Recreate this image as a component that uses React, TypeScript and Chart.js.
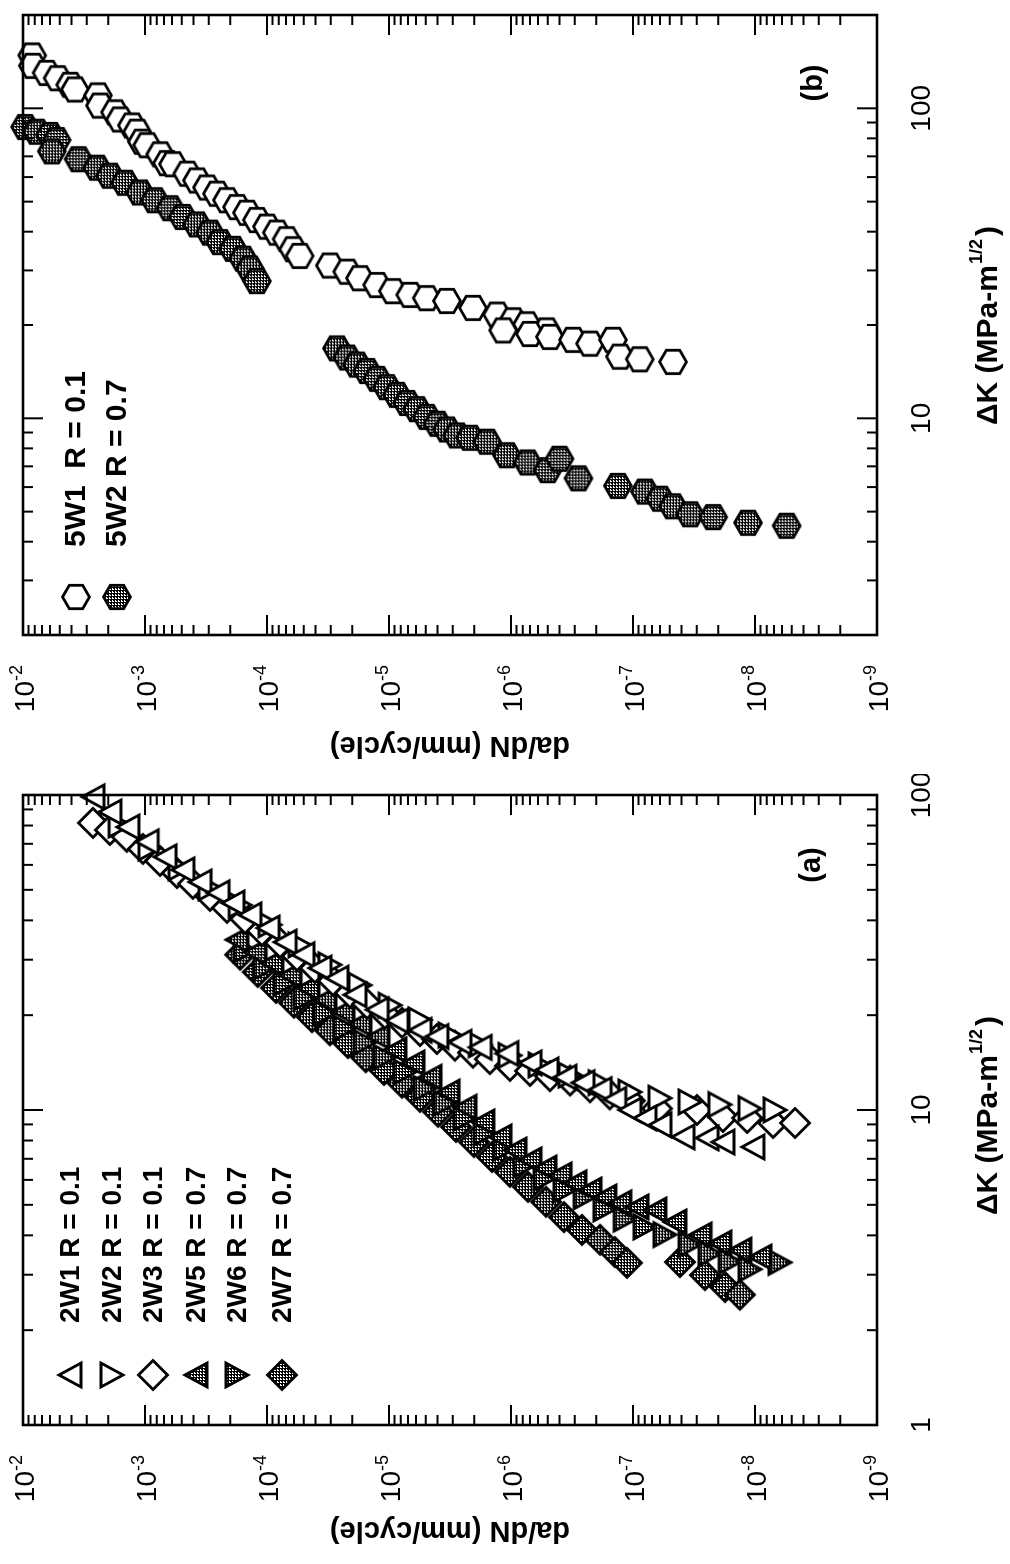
import React, { useEffect, useRef } from 'react';
import { Chart, registerables } from 'chart.js';

Chart.register(...registerables);

// ---------------- Panel (a) data: ΔK (MPa·m^1/2) and da/dN (mm/cycle) ----------------
const a_dK_2W1 = [98.6, 88.3, 79.1, 71.0, 63.6, 57.8, 52.9, 48.9, 45.4, 41.6, 37.8, 34.1, 31.1, 28.2, 26.2, 23.2, 20.8, 19.2, 17.9, 17.1, 16.4, 15.8, 15.1, 14.1, 13.4, 12.7, 12.2, 11.6, 10.8, 10.0, 9.43, 8.96, 8.21, 8.15, 7.91, 7.63];
const a_da_2W1 = [2.67e-3, 1.94e-3, 1.38e-3, 9.6e-4, 6.85e-4, 4.89e-4, 3.54e-4, 2.52e-4, 1.9e-4, 1.38e-4, 9.8e-5, 7.11e-5, 5.07e-5, 3.68e-5, 2.67e-5, 1.9e-5, 1.25e-5, 8.59e-6, 5.57e-6, 4.05e-6, 2.62e-6, 1.79e-6, 1.08e-6, 6.98e-7, 5.07e-7, 3.61e-7, 2.57e-7, 1.86e-7, 1.41e-7, 1.06e-7, 7.98e-8, 6.01e-8, 3.89e-8, 2.47e-8, 1.83e-8, 1.04e-8];

const a_dK_2W2 = [80.3, 67.9, 58.7, 50.7, 44.7, 38.7, 33.4, 28.9, 24.9, 21.5, 19.3, 17.3, 16.1, 14.9, 13.9, 12.9, 12.2, 11.4, 10.9, 10.6, 10.4, 10.1, 10.0];
const a_da_2W2 = [1.6e-3, 9.1e-4, 5.16e-4, 2.93e-4, 1.66e-4, 9.44e-5, 5.37e-5, 3.05e-5, 1.73e-5, 9.8e-6, 5.57e-6, 3.16e-6, 1.79e-6, 1.02e-6, 5.78e-7, 3.28e-7, 1.86e-7, 1.06e-7, 6.01e-8, 3.41e-8, 1.94e-8, 1.1e-8, 6.85e-9];

const a_dK_2W3 = [81.5, 77.4, 73.6, 67.4, 61.7, 56.5, 52.2, 47.8, 43.8, 40.4, 37.0, 33.9, 30.8, 28.2, 25.7, 23.5, 21.7, 20.2, 18.9, 17.8, 16.8, 16.0, 15.2, 14.5, 13.8, 13.3, 12.8, 12.4, 11.8, 11.2, 10.7, 10.1, 10.0, 9.5, 9.43, 9.09, 9.09];
const a_da_2W3 = [2.67e-3, 1.94e-3, 1.41e-3, 1.04e-3, 7.53e-4, 5.47e-4, 4.05e-4, 2.93e-4, 2.13e-4, 1.51e-4, 1.1e-4, 7.82e-5, 5.68e-5, 4.05e-5, 2.88e-5, 2.09e-5, 1.51e-5, 1.08e-5, 7.82e-6, 5.57e-6, 4.05e-6, 2.88e-6, 2.05e-6, 1.49e-6, 1.02e-6, 6.98e-7, 4.79e-7, 3.28e-7, 2.25e-7, 1.55e-7, 1.06e-7, 6.35e-8, 2.99e-8, 1.83e-8, 1.16e-8, 7.11e-9, 4.7e-9];

const a_dK_2W5 = [34.7, 31.7, 29.3, 26.8, 24.4, 22.4, 20.5, 18.8, 17.1, 15.5, 14.1, 12.7, 11.4, 10.2, 9.16, 8.21, 7.46, 6.94, 6.54, 6.22, 5.87, 5.57, 5.29, 5.07, 4.92, 4.81, 4.41, 4.01, 3.78, 3.59, 3.41];
const a_da_2W5 = [1.76e-4, 1.25e-4, 9.1e-5, 6.47e-5, 4.61e-5, 3.35e-5, 2.38e-5, 1.73e-5, 1.23e-5, 8.93e-6, 6.35e-6, 4.61e-6, 3.28e-6, 2.38e-6, 1.7e-6, 1.23e-6, 9.27e-7, 6.98e-7, 5.26e-7, 3.96e-7, 2.99e-7, 2.25e-7, 1.7e-7, 1.28e-7, 9.27e-8, 6.61e-8, 4.53e-8, 2.82e-8, 1.94e-8, 1.33e-8, 9.1e-9];

const a_dK_2W6 = [32.2, 28.4, 25.3, 22.7, 20.3, 18.2, 16.4, 14.7, 13.2, 11.7, 10.5, 9.43, 8.45, 7.57, 6.69, 6.08, 5.57, 5.3, 4.85, 4.5, 4.25, 4.02, 3.74, 3.5, 3.3, 3.12, 3.28];
const a_da_2W6 = [1.51e-4, 1.04e-4, 7.11e-5, 4.89e-5, 3.35e-5, 2.3e-5, 1.57e-5, 1.08e-5, 7.4e-6, 5.07e-6, 3.48e-6, 2.38e-6, 1.63e-6, 1.12e-6, 7.67e-7, 5.26e-7, 3.61e-7, 2.47e-7, 1.7e-7, 1.16e-7, 7.98e-8, 5.47e-8, 3.41e-8, 2.34e-8, 1.6e-8, 1.1e-8, 6.24e-9];

const a_dK_2W7 = [31.1, 27.4, 24.4, 21.9, 19.7, 17.9, 16.3, 14.7, 13.4, 12.2, 11.0, 9.86, 8.83, 7.91, 7.09, 6.36, 5.7, 5.11, 4.57, 4.16, 3.87, 3.54, 3.27, 3.29, 2.99, 2.74, 2.59];
const a_da_2W7 = [1.66e-4, 1.19e-4, 8.43e-5, 6.01e-5, 4.28e-5, 3.05e-5, 2.17e-5, 1.55e-5, 1.1e-5, 7.82e-6, 5.57e-6, 3.96e-6, 2.82e-6, 2.01e-6, 1.43e-6, 1.02e-6, 7.26e-7, 5.16e-7, 3.68e-7, 2.62e-7, 1.86e-7, 1.41e-7, 1.12e-7, 4.12e-8, 2.57e-8, 1.76e-8, 1.33e-8];

// ---------------- Panel (b) data ----------------
const b_dK_5W1 = [148, 137, 130, 125, 119, 115, 110, 102, 97, 92, 88, 84, 78, 76, 71, 66.5, 66, 61.5, 58.5, 55.5, 53, 50.5, 48, 46, 43.6, 41.5, 39.7, 37.8, 35.1, 33.4, 31.1, 29.7, 28.3, 26.9, 25.7, 25.0, 24.4, 23.9, 22.7, 21.6, 20.7, 20.1, 19.2, 19.2, 18.7, 18.3, 17.9, 17.4, 17.9, 15.8, 15.5, 15.2];
const b_da_5W1 = [8.4e-3, 8.3e-3, 6.4e-3, 5.2e-3, 4.1e-3, 3.75e-3, 2.43e-3, 2.34e-3, 1.76e-3, 1.6e-3, 1.28e-3, 1.16e-3, 1.06e-3, 9.6e-4, 7.5e-4, 6.6e-4, 5.9e-4, 4.5e-4, 3.75e-4, 3.1e-4, 2.57e-4, 2.13e-4, 1.76e-4, 1.46e-4, 1.21e-4, 1.0e-4, 8.3e-5, 6.9e-5, 6.1e-5, 5.4e-5, 3.05e-5, 2.2e-5, 1.73e-5, 1.25e-5, 9.3e-6, 6.7e-6, 4.9e-6, 3.35e-6, 2.05e-6, 1.3e-6, 9.6e-7, 7.4e-7, 5.1e-7, 1.16e-6, 7.0e-7, 4.8e-7, 3.1e-7, 2.25e-7, 1.46e-7, 1.28e-7, 8.8e-8, 4.7e-8];

const b_dK_5W2 = [87, 84, 82, 79, 72.6, 68.5, 64.3, 60.6, 57.5, 53.5, 50.5, 47.6, 44.6, 42.2, 39.7, 37, 35.2, 32.7, 30.4, 27.7, 16.8, 15.7, 14.9, 14.2, 13.4, 12.6, 11.9, 11.2, 10.7, 10.1, 9.6, 9.2, 8.8, 8.65, 8.4, 7.6, 7.2, 6.8, 7.4, 6.4, 6.05, 5.8, 5.5, 5.2, 4.9, 4.8, 4.6, 4.5];
const b_da_5W2 = [9.6e-3, 7.7e-3, 6.0e-3, 5.3e-3, 5.8e-3, 3.5e-3, 2.47e-3, 1.94e-3, 1.46e-3, 1.1e-3, 8.3e-4, 6.2e-4, 4.9e-4, 3.75e-4, 2.93e-4, 2.43e-4, 1.9e-4, 1.57e-4, 1.38e-4, 1.21e-4, 2.67e-5, 2.2e-5, 1.83e-5, 1.51e-5, 1.25e-5, 1.04e-5, 8.6e-6, 7.1e-6, 5.9e-6, 4.9e-6, 4.0e-6, 3.35e-6, 2.77e-6, 2.17e-6, 1.57e-6, 1.08e-6, 7.3e-7, 5.0e-7, 4.0e-7, 2.8e-7, 1.33e-7, 8.0e-8, 6.0e-8, 4.7e-8, 3.4e-8, 2.2e-8, 1.14e-8, 5.5e-9];

// ---------------- labels / ticks ----------------
const a_legendLabels = ['2W1 R = 0.1', '2W2 R = 0.1', '2W3 R = 0.1', '2W5 R = 0.7', '2W6 R = 0.7', '2W7 R = 0.7'];
const b_legendLabels = ['5W1  R = 0.1', '5W2 R = 0.7'];
const a_dKTickLabels = [1, 10, 100];
const b_dKTickLabels = [10, 100];
const daTickExponents = [-2, -3, -4, -5, -6, -7, -8, -9];
const a_range = [1, 100];
const b_range = [2, 200];
const daRange = [1e-9, 1e-2];

const FF = '"Liberation Sans", Arial, Helvetica, sans-serif';

type Shape = 'triUp' | 'triDown' | 'diamond' | 'hex';

function makeMarker(shape: Shape, filled: boolean): HTMLCanvasElement {
  const S = 36;
  const c = document.createElement('canvas');
  c.width = S;
  c.height = S;
  const g = c.getContext('2d')!;
  const cx = S / 2, cy = S / 2;
  g.beginPath();
  if (shape === 'triUp') {
    g.moveTo(cx, cy - 11); g.lineTo(cx + 12, cy + 11); g.lineTo(cx - 12, cy + 11);
  } else if (shape === 'triDown') {
    g.moveTo(cx, cy + 11); g.lineTo(cx + 12, cy - 11); g.lineTo(cx - 12, cy - 11);
  } else if (shape === 'diamond') {
    const r = 14.5;
    g.moveTo(cx, cy - r); g.lineTo(cx + r, cy); g.lineTo(cx, cy + r); g.lineTo(cx - r, cy);
  } else {
    const r = 13.5;
    for (let i = 0; i < 6; i++) {
      const a = -Math.PI / 2 + (i * Math.PI) / 3;
      const px = cx + r * Math.cos(a), py = cy + r * Math.sin(a);
      if (i === 0) g.moveTo(px, py); else g.lineTo(px, py);
    }
  }
  g.closePath();
  if (filled) {
    const tile = document.createElement('canvas');
    tile.width = 3; tile.height = 3;
    const t = tile.getContext('2d')!;
    t.fillStyle = '#fff'; t.fillRect(0, 0, 3, 3);
    t.fillStyle = '#000'; t.fillRect(0, 0, 3, 1); t.fillRect(0, 0, 1, 3); t.fillRect(2, 2, 1, 1);
    g.fillStyle = g.createPattern(tile, 'repeat')!;
  } else {
    g.fillStyle = '#fff';
  }
  g.fill();
  g.lineWidth = 2.8;
  g.lineJoin = 'miter';
  g.strokeStyle = '#000';
  g.stroke();
  return c;
}

function zip(xs: number[], ys: number[]) {
  const n = Math.min(xs.length, ys.length);
  const out: { x: number; y: number }[] = [];
  for (let i = 0; i < n; i++) out.push({ x: xs[i], y: ys[i] });
  return out;
}

interface PanelCfg {
  xRange: number[];
  xTickLabels: number[];
  series: { label: string; dK: number[]; da: number[]; marker: HTMLCanvasElement }[];
  legendLabels: string[];
  legendRows: number[];
  legendMarkerX: number;
  legendTextX: number;
  legendFont: number;
  panelLabel: string;
  panelLabelPos: number[];
  yTitleX: number;
  xTitleStart: number;
  padRight: number;
}

function makePanel(canvas: HTMLCanvasElement, p: PanelCfg) {
  const framePlugin = {
    id: 'frame',
    afterDraw(chart: any) {
      const ctx: CanvasRenderingContext2D = chart.ctx;
      const { left, right, top, bottom } = chart.chartArea;
      const xs = chart.scales.x;
      const ys = chart.scales.y;
      ctx.save();
      ctx.strokeStyle = '#000';
      ctx.fillStyle = '#000';
      // inward ticks, ΔK axis (top & bottom)
      ctx.lineWidth = 2;
      const x0 = Math.floor(Math.log10(p.xRange[0]));
      const x1 = Math.ceil(Math.log10(p.xRange[1]));
      for (let d = x0; d <= x1; d++) {
        for (let m = 1; m <= 9; m++) {
          const v = m * Math.pow(10, d);
          if (v < p.xRange[0] * 0.999 || v > p.xRange[1] * 1.001) continue;
          const px = xs.getPixelForValue(v);
          const len = m === 1 ? 20 : 10;
          ctx.beginPath();
          ctx.moveTo(px, bottom); ctx.lineTo(px, bottom - len);
          ctx.moveTo(px, top); ctx.lineTo(px, top + len);
          ctx.stroke();
        }
      }
      // inward ticks, da/dN axis (left & right)
      for (let d = -9; d <= -2; d++) {
        for (let m = 1; m <= 9; m++) {
          const v = m * Math.pow(10, d);
          if (v < daRange[0] * 0.999 || v > daRange[1] * 1.001) continue;
          const py = ys.getPixelForValue(v);
          const len = m === 1 ? 20 : 10;
          ctx.beginPath();
          ctx.moveTo(left, py); ctx.lineTo(left + len, py);
          ctx.moveTo(right, py); ctx.lineTo(right - len, py);
          ctx.stroke();
        }
      }
      // frame
      ctx.lineWidth = 2.6;
      ctx.strokeRect(left, top, right - left, bottom - top);

      // da/dN tick labels 10^n
      ctx.textAlign = 'left';
      ctx.textBaseline = 'alphabetic';
      for (const e of daTickExponents) {
        const py = ys.getPixelForValue(Math.pow(10, e));
        const sup = String(e);
        ctx.font = `28px ${FF}`;
        const w10 = ctx.measureText('10').width;
        ctx.font = `18px ${FF}`;
        const ws = ctx.measureText(sup).width;
        const xEnd = left - 30;
        ctx.font = `28px ${FF}`;
        ctx.fillText('10', xEnd - ws - w10, py + 11);
        ctx.font = `18px ${FF}`;
        ctx.fillText(sup, xEnd - ws, py - 1);
      }
      // ΔK tick labels
      ctx.font = `28px ${FF}`;
      ctx.textAlign = 'center';
      ctx.textBaseline = 'middle';
      for (const v of p.xTickLabels) {
        ctx.fillText(String(v), xs.getPixelForValue(v), bottom + 45);
      }
      // ΔK title
      ctx.textAlign = 'left';
      ctx.textBaseline = 'alphabetic';
      ctx.font = `bold 30px ${FF}`;
      const t1 = 'ΔK (MPa-m';
      let tx = p.xTitleStart;
      const ty = 997;
      ctx.fillText(t1, tx, ty);
      tx += ctx.measureText(t1).width + 1;
      ctx.font = `bold 18px ${FF}`;
      ctx.fillText('1/2', tx, ty - 15);
      tx += ctx.measureText('1/2').width + 3;
      ctx.font = `bold 30px ${FF}`;
      ctx.fillText(')', tx, ty);
      // da/dN title
      ctx.save();
      ctx.translate(p.yTitleX, (top + bottom) / 2);
      ctx.rotate(-Math.PI / 2);
      ctx.textAlign = 'center';
      ctx.textBaseline = 'middle';
      ctx.font = `bold 29px ${FF}`;
      ctx.fillText('da/dN (mm/cycle)', 0, 0);
      ctx.restore();
      // legend
      ctx.textAlign = 'left';
      ctx.textBaseline = 'middle';
      ctx.font = `bold ${p.legendFont}px ${FF}`;
      p.series.forEach((s, i) => {
        const ry = p.legendRows[i];
        const mk = s.marker;
        ctx.drawImage(mk, p.legendMarkerX - mk.width / 2, ry - mk.height / 2);
        ctx.fillText(p.legendLabels[i], p.legendTextX, ry + 1);
      });
      // panel label
      ctx.textAlign = 'center';
      ctx.font = `bold 29px ${FF}`;
      ctx.fillText(p.panelLabel, p.panelLabelPos[0], p.panelLabelPos[1]);
      ctx.restore();
    },
  };

  return new Chart(canvas, {
    type: 'scatter',
    data: {
      datasets: p.series.map((s) => ({
        label: s.label,
        data: zip(s.dK, s.da),
        pointStyle: s.marker as any,
        pointRadius: 14,
        pointHoverRadius: 14,
        showLine: false,
        clip: false as any,
      })),
    },
    options: {
      responsive: false,
      animation: false,
      devicePixelRatio: 1,
      layout: { padding: { top: 23, right: p.padRight, left: 0, bottom: 0 } },
      plugins: { legend: { display: false }, tooltip: { enabled: false } },
      events: [],
      scales: {
        x: {
          type: 'logarithmic',
          min: p.xRange[0],
          max: p.xRange[1],
          ticks: { display: false },
          grid: { display: false },
          border: { display: false },
          afterFit: (s: any) => { s.height = 133; },
        },
        y: {
          type: 'logarithmic',
          min: daRange[0],
          max: daRange[1],
          ticks: { display: false },
          grid: { display: false },
          border: { display: false },
          afterFit: (s: any) => { s.width = 139; },
        },
      },
    } as any,
    plugins: [framePlugin],
  });
}

export default function App() {
  const refA = useRef<HTMLCanvasElement>(null);
  const refB = useRef<HTMLCanvasElement>(null);

  useEffect(() => {
    document.body.style.margin = '0';
    document.body.style.overflow = 'hidden';
    const open = (s: Shape) => makeMarker(s, false);
    const gray = (s: Shape) => makeMarker(s, true);
    const cfgA: PanelCfg = {
      xRange: a_range,
      xTickLabels: a_dKTickLabels,
      series: [
        { label: '2W1', dK: a_dK_2W1, da: a_da_2W1, marker: open('triUp') },
        { label: '2W2', dK: a_dK_2W2, da: a_da_2W2, marker: open('triDown') },
        { label: '2W3', dK: a_dK_2W3, da: a_da_2W3, marker: open('diamond') },
        { label: '2W5', dK: a_dK_2W5, da: a_da_2W5, marker: gray('triUp') },
        { label: '2W6', dK: a_dK_2W6, da: a_da_2W6, marker: gray('triDown') },
        { label: '2W7', dK: a_dK_2W7, da: a_da_2W7, marker: gray('diamond') },
      ],
      legendLabels: a_legendLabels,
      legendRows: [70, 112, 153, 196, 237, 282],
      legendMarkerX: 189,
      legendTextX: 241,
      legendFont: 28,
      panelLabel: '(a)',
      panelLabelPos: [699, 812],
      yTitleX: 34,
      xTitleStart: 349,
      padRight: 21,
    };
    const cfgB: PanelCfg = {
      xRange: b_range,
      xTickLabels: b_dKTickLabels,
      series: [
        { label: '5W1', dK: b_dK_5W1, da: b_da_5W1, marker: open('hex') },
        { label: '5W2', dK: b_dK_5W2, da: b_da_5W2, marker: gray('hex') },
      ],
      legendLabels: b_legendLabels,
      legendRows: [76, 117],
      legendMarkerX: 177,
      legendTextX: 227,
      legendFont: 30,
      panelLabel: '(b)',
      panelLabelPos: [691, 814],
      yTitleX: 29,
      xTitleStart: 349,
      padRight: 5,
    };
    const charts = [makePanel(refA.current!, cfgA), makePanel(refB.current!, cfgB)];
    return () => charts.forEach((c) => c.destroy());
  }, []);

  return (
    <div
      style={{
        position: 'absolute',
        left: 0,
        top: 0,
        width: 1564,
        height: 1010,
        background: '#fff',
        transformOrigin: '0 0',
        transform: 'translate(0px, 1564px) rotate(-90deg)',
      }}
    >
      <canvas ref={refA} width={790} height={1010} style={{ position: 'absolute', left: 0, top: 0, width: 790, height: 1010 }} />
      <canvas ref={refB} width={774} height={1010} style={{ position: 'absolute', left: 790, top: 0, width: 774, height: 1010 }} />
    </div>
  );
}
